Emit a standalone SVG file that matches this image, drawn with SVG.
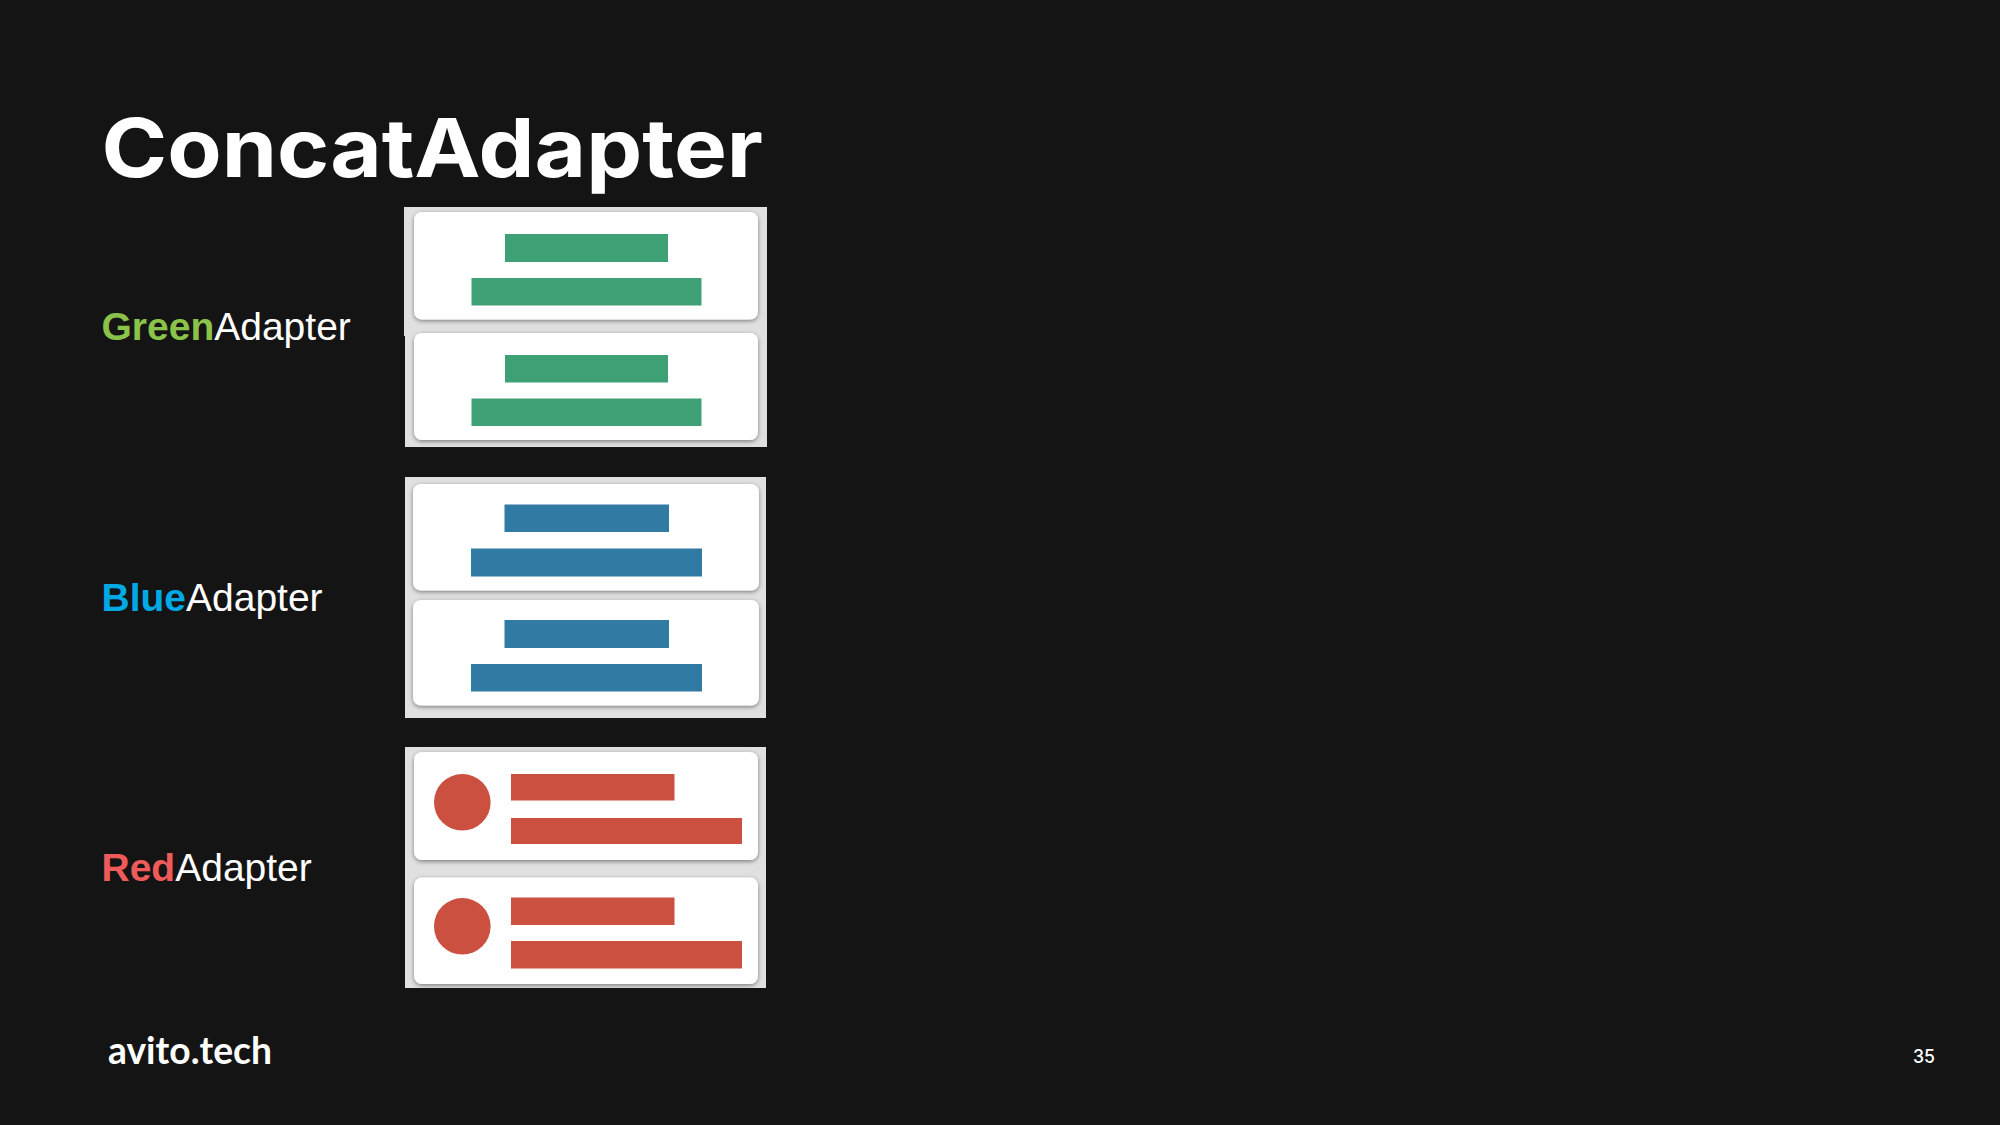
<svg xmlns="http://www.w3.org/2000/svg" width="2000" height="1125" viewBox="0 0 2000 1125">
<defs>
<filter id="sh" x="-5%" y="-10%" width="110%" height="125%"><feDropShadow dx="0" dy="1.5" stdDeviation="2" flood-color="#000" flood-opacity="0.45"/></filter>
</defs>
<style>
.panel{fill:#e0e0e0}
.card{fill:#fff;filter:url(#sh)}
.g{fill:#3ea175}
.b{fill:#317aa3}
.r{fill:#cc5040}
.lbl{font-family:"Liberation Sans",Arial,sans-serif;font-size:39px;fill:#fff}
.lbl .h{font-weight:700}
</style>
<rect width="2000" height="1125" fill="#141414"/>
<text id="title" x="101.500" y="176.500" font-family="Inter,'Noto Sans',sans-serif" font-weight="700" font-size="81" fill="#fff" textLength="661.500" lengthAdjust="spacingAndGlyphs">ConcatAdapter</text>
<g id="green-adapter">
<text class="lbl" x="101.500" y="340"><tspan class="h" fill="#8bc34a">Green</tspan>Adapter</text>
<path class="panel" d="M404 207H767V447H405V336H404Z"/>
<rect class="card" x="414" y="212" width="344" height="107.500" rx="8"/>
<rect class="card" x="414" y="333" width="344" height="107" rx="8"/>
<rect class="g" x="505" y="234" width="163" height="28"/>
<rect class="g" x="471.500" y="278" width="230" height="27.500"/>
<rect class="g" x="505" y="355" width="163" height="27.500"/>
<rect class="g" x="471.500" y="398.500" width="230" height="27.500"/>
</g>
<g id="blue-adapter">
<text class="lbl" x="101.500" y="611"><tspan class="h" fill="#00a9e6">Blue</tspan>Adapter</text>
<rect class="panel" x="405" y="477" width="361" height="241"/>
<rect class="card" x="413" y="484" width="346" height="106.500" rx="8"/>
<rect class="card" x="413" y="600" width="346" height="105.500" rx="8"/>
<rect class="b" x="504.500" y="504.500" width="164.500" height="27.500"/>
<rect class="b" x="471" y="548.500" width="231" height="28"/>
<rect class="b" x="504.500" y="620" width="164.500" height="28"/>
<rect class="b" x="471" y="664" width="231" height="27.500"/>
</g>
<g id="red-adapter">
<text class="lbl" x="101.500" y="881"><tspan class="h" fill="#ef5b5b">Red</tspan>Adapter</text>
<rect class="panel" x="405" y="747" width="361" height="241"/>
<rect class="card" x="414" y="752" width="344" height="108" rx="8"/>
<rect class="card" x="414" y="877.500" width="344" height="106.500" rx="8"/>
<circle class="r" cx="462.300" cy="802.300" r="28.300"/>
<circle class="r" cx="462.300" cy="926.300" r="28.300"/>
<rect class="r" x="511" y="774" width="163.500" height="26.500"/>
<rect class="r" x="511" y="818" width="231" height="26"/>
<rect class="r" x="511" y="897.500" width="163.500" height="27.500"/>
<rect class="r" x="511" y="941" width="231" height="27.500"/>
</g>
<g id="connectors"/>
<text id="logo" x="108" y="1063.500" font-family="Lato,'Noto Sans',sans-serif" font-weight="700" font-size="38" fill="#fff" textLength="164" lengthAdjust="spacingAndGlyphs">avito.tech</text>
<text id="page" x="1913" y="1063" font-family="Inter,sans-serif" font-weight="500" font-size="18" fill="#fff" textLength="22" lengthAdjust="spacingAndGlyphs">35</text>
</svg>
